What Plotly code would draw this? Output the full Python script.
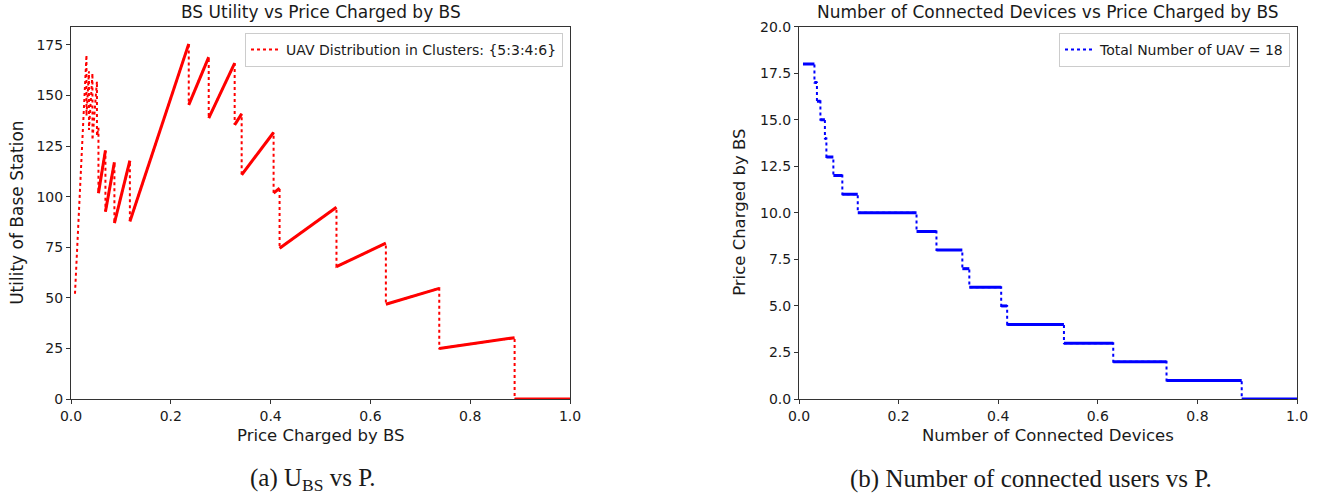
import plotly.graph_objects as go

# ---- data ----
price_edges = [0.008, 0.031, 0.036, 0.043, 0.052, 0.055, 0.069, 0.087, 0.118, 0.236,
               0.276, 0.328, 0.342, 0.406, 0.418, 0.532, 0.631, 0.738, 0.889, 1.0]
uav_counts = [18, 17, 16, 15, 14, 13, 12, 11, 10, 9, 8, 7, 6, 5, 4, 3, 2, 1, 0]
utility_start = [52, 140, 133, 128, 130, 101.7, 92.6, 86.9, 87.7, 145.4, 138.8, 135.5,
                 110.8, 101.7, 74.5, 65.4, 46.8, 25.0, 0]
utility_end = [170, 162, 161, 157, 134, 122.8, 117.0, 117.8, 175.5, 169.0, 166.0, 140.9,
               131.7, 104.2, 94.8, 77.0, 54.7, 30.3, 0]

left_title = "BS Utility vs Price Charged by BS"
right_title = "Number of Connected Devices vs Price Charged by BS"
left_legend = "UAV Distribution in Clusters: {5:3:4:6}"
right_legend = "Total Number of UAV = 18"
left_xlabel = "Price Charged by BS"
left_ylabel = "Utility of Base Station"
right_xlabel = "Number of Connected Devices"
right_ylabel = "Price Charged by BS"
caption_a = "(a) U<sub>BS</sub> vs P."
caption_b = "(b) Number of connected users vs P."

W, H = 1325, 498
RED = "#ff0000"
BLUE = "#0000ff"
TXT = "#1a1a1a"

# build paths
lx, ly, sx, sy = [], [], [], []
rx, ry, tx, ty = [], [], [], []
for i, n in enumerate(uav_counts):
    p0, p1 = price_edges[i], price_edges[i + 1]
    lx += [p0, p1]
    ly += [utility_start[i], utility_end[i]]
    rx += [p0, p1]
    ry += [n, n]
    if n <= 13:
        sx += [p0, p1, None]
        sy += [utility_start[i], utility_end[i], None]
    tx += [p0, p1, None]
    ty += [n, n, None]

fig = go.Figure()
fig.add_trace(go.Scatter(x=lx, y=ly, mode="lines", name=left_legend,
                         line=dict(color=RED, width=2, dash="dot"),
                         xaxis="x", yaxis="y", legend="legend"))
fig.add_trace(go.Scatter(x=sx, y=sy, mode="lines", showlegend=False,
                         line=dict(color=RED, width=3),
                         xaxis="x", yaxis="y", hoverinfo="skip"))
fig.add_trace(go.Scatter(x=rx, y=ry, mode="lines", name=right_legend,
                         line=dict(color=BLUE, width=2, dash="dot"),
                         xaxis="x2", yaxis="y2", legend="legend2"))
fig.add_trace(go.Scatter(x=tx, y=ty, mode="lines", showlegend=False,
                         line=dict(color=BLUE, width=3),
                         xaxis="x2", yaxis="y2", hoverinfo="skip"))

# plot-area geometry (pixels)
L1, R1 = 71, 570
L2, R2 = 799, 1297
TOP, BOT = 26.7, 399
ydom = [1 - BOT / H, 1 - TOP / H]

axis_common = dict(showline=True, mirror=True, linecolor="#333", linewidth=1,
                   ticks="outside", ticklen=4, tickcolor="#333", showgrid=False,
                   zeroline=False, automargin=False,
                   tickfont=dict(family="DejaVu Sans", size=14, color=TXT))

fig.update_layout(
    width=W, height=H, margin=dict(l=0, r=0, t=0, b=0, pad=0, autoexpand=False),
    paper_bgcolor="white", plot_bgcolor="white",
    font=dict(family="DejaVu Sans", color=TXT),
    xaxis=dict(domain=[L1 / W, R1 / W], range=[0, 1], tickvals=[0, 0.2, 0.4, 0.6, 0.8, 1.0],
               tickformat=".1f", anchor="y", **axis_common),
    yaxis=dict(domain=ydom, range=[0, 184], tickvals=[0, 25, 50, 75, 100, 125, 150, 175],
               anchor="x", **axis_common),
    xaxis2=dict(domain=[L2 / W, R2 / W], range=[0, 1], tickvals=[0, 0.2, 0.4, 0.6, 0.8, 1.0],
                tickformat=".1f", anchor="y2", **axis_common),
    yaxis2=dict(domain=ydom, range=[0, 20],
                tickvals=[0, 2.5, 5, 7.5, 10, 12.5, 15, 17.5, 20],
                tickformat=".1f", anchor="x2", **axis_common),
    legend=dict(x=563 / W, xanchor="right", y=1 - 33 / H, yanchor="top",
                bgcolor="rgba(255,255,255,0.8)", bordercolor="#cccccc", borderwidth=1,
                itemwidth=30, tracegroupgap=0,
                font=dict(family="DejaVu Sans", size=14, color=TXT)),
    legend2=dict(x=1290 / W, xanchor="right", y=1 - 33 / H, yanchor="top",
                 bgcolor="rgba(255,255,255,0.8)", bordercolor="#cccccc", borderwidth=1,
                 itemwidth=30, tracegroupgap=0,
                 font=dict(family="DejaVu Sans", size=14, color=TXT)),
)

def ann(text, xpx, ypx, size, family="DejaVu Sans", angle=0):
    fig.add_annotation(text=text, x=xpx / W, y=1 - ypx / H, xref="paper", yref="paper",
                       xanchor="center", yanchor="middle", showarrow=False, textangle=angle,
                       font=dict(family=family, size=size, color=TXT))

ann(left_title, (L1 + R1) / 2, 12, 17)
ann(right_title, (L2 + R2) / 2, 12, 17)
ann(left_xlabel, (L1 + R1) / 2, 435, 16.5)
ann(right_xlabel, (L2 + R2) / 2, 435, 16.5)
ann(left_ylabel, 17, (TOP + BOT) / 2, 17, angle=-90)
ann(right_ylabel, 740, (TOP + BOT) / 2, 16.5, angle=-90)
ann(caption_a, 313, 479, 25, family="Liberation Serif")
ann(caption_b, 1031, 479, 25, family="Liberation Serif")

fig.write_html("out.html", config={"displayModeBar": False},
               post_script="document.body.style.margin='0';document.body.style.overflow='hidden';")
